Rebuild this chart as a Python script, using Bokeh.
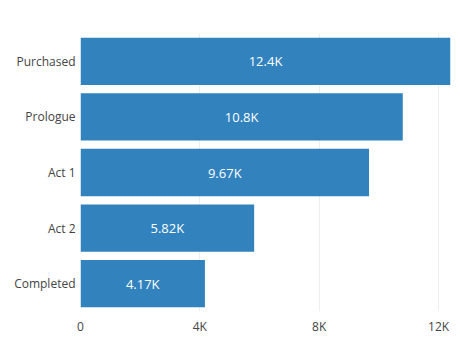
from bokeh.plotting import figure
from bokeh.models import ColumnDataSource, FixedTicker, FactorRange, Range1d
from bokeh.core.properties import value
from bokeh.embed import file_html
from bokeh.resources import INLINE

stages = ["Purchased", "Prologue", "Act 1", "Act 2", "Completed"]
players = [12400, 10800, 9670, 5820, 4170]
tick_values = [0, 4000, 8000, 12000]
tick_labels = ["0", "4K", "8K", "12K"]

labels = [f"{v/1000:.3g}K" for v in players]
src = ColumnDataSource(dict(stage=stages, n=players, half=[v / 2 for v in players], lab=labels))

p = figure(width=460, height=344, output_backend="svg", toolbar_location=None,
           y_range=FactorRange(factors=stages[::-1]), x_range=Range1d(0, 12400),
           min_border_left=80, min_border_right=10, min_border_top=33, min_border_bottom=33)
p.outline_line_color = None
p.background_fill_color = "white"
p.border_fill_color = "white"

p.hbar(y="stage", right="n", left=0, height=0.85, source=src,
       fill_color="#3182bd", line_color=None)
p.text(x="half", y="stage", text="lab", source=src, text_color="white",
       text_align="center", text_baseline="middle",
       text_font=value("Open Sans"), text_font_size="13px")

p.xaxis.ticker = FixedTicker(ticks=tick_values)
p.xaxis.major_label_overrides = {t: l for t, l in zip(tick_values, tick_labels)}
for ax in (p.xaxis[0], p.yaxis[0]):
    ax.axis_line_color = None
    ax.major_tick_line_color = None
    ax.minor_tick_line_color = None
    ax.major_label_text_font = "Open Sans"
    ax.major_label_text_font_size = "12px"
    ax.major_label_text_color = "#444444"
p.xaxis.major_label_standoff = 0
p.yaxis.major_label_standoff = -1

p.ygrid.grid_line_color = None
p.xgrid.ticker = FixedTicker(ticks=tick_values[1:])
p.xgrid.grid_line_color = "#eeeeee"
p.xgrid.grid_line_width = 1

open("out.html", "w").write(file_html(p, INLINE))
